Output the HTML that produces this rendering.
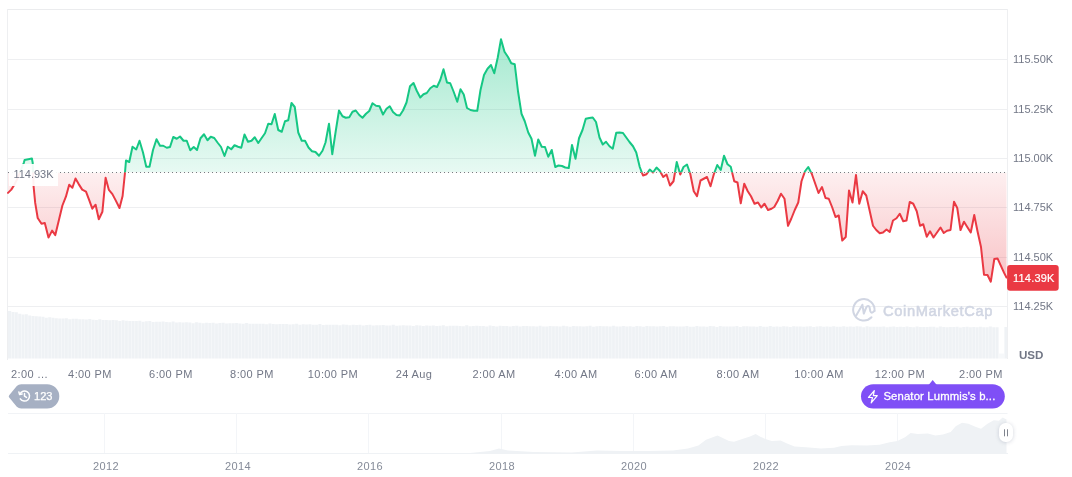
<!DOCTYPE html>
<html><head><meta charset="utf-8"><title>Chart</title>
<style>
html,body{margin:0;padding:0;background:#fff;}
body{width:1072px;height:477px;position:relative;overflow:hidden;font-family:"Liberation Sans",sans-serif;}
svg{position:absolute;left:0;top:0;}
.yl,.tl,.yr,.base,.cur,.usd,.wm,.pill,.tag{will-change:transform;}
.yl{position:absolute;left:1013.3px;height:15px;line-height:15px;font-size:11px;color:#727786;white-space:nowrap;}
.tl{position:absolute;top:366.5px;height:15px;line-height:15px;font-size:11px;letter-spacing:0.4px;color:#727786;white-space:nowrap;}
.yr{position:absolute;top:458.5px;width:60px;text-align:center;height:15px;line-height:15px;font-size:11px;letter-spacing:0.4px;color:#858b98;white-space:nowrap;}
.cur{position:absolute;left:1013.4px;top:271px;height:15px;color:#fff;font-size:11px;line-height:15px;letter-spacing:0.2px;-webkit-text-stroke:0.2px #fff;white-space:nowrap;}
.base{position:absolute;left:9px;top:163.5px;width:49px;height:22px;background:rgba(255,255,255,0.93);color:#727786;font-size:11px;line-height:21px;text-indent:4.4px;white-space:nowrap;}
.usd{position:absolute;left:1019.4px;top:347px;font-size:11.6px;font-weight:bold;color:#727786;height:15px;line-height:15px;}
.wm{position:absolute;left:883px;top:300.2px;height:22px;line-height:22px;font-size:14.7px;color:#d1d6e3;-webkit-text-stroke:0.55px #d1d6e3;letter-spacing:0.62px;white-space:nowrap;}
.pill{position:absolute;left:861px;top:384px;width:143.8px;height:24px;color:#fff;font-size:11.3px;letter-spacing:0.15px;line-height:24px;white-space:nowrap;}
.pill span{position:absolute;left:22.4px;top:0;-webkit-text-stroke:0.3px #fff;}
.tag{position:absolute;left:34.3px;top:384.4px;height:24px;line-height:24px;color:#fff;font-size:11.1px;-webkit-text-stroke:0.25px #fff;}
</style></head><body>
<svg width="1072" height="477" viewBox="0 0 1072 477">
<defs>
<linearGradient id="gg" gradientUnits="userSpaceOnUse" x1="0" y1="10" x2="0" y2="172.5">
<stop offset="0" stop-color="#16c784" stop-opacity="0.45"/><stop offset="1" stop-color="#16c784" stop-opacity="0.1"/></linearGradient>
<linearGradient id="rg" gradientUnits="userSpaceOnUse" x1="0" y1="172.5" x2="0" y2="330">
<stop offset="0" stop-color="#ea3943" stop-opacity="0.08"/><stop offset="1" stop-color="#ea3943" stop-opacity="0.4"/></linearGradient>
<clipPath id="top"><rect x="0" y="0" width="1072" height="172.5"/></clipPath>
<clipPath id="bot"><rect x="0" y="172.5" width="1072" height="300"/></clipPath>
</defs>
<!-- frame -->
<rect x="7" y="9" width="1001" height="1" fill="#ebecee"/>
<rect x="7" y="9" width="1" height="351" fill="#eeeff1"/>
<rect x="1007" y="9" width="1" height="350" fill="#eeeff1"/>
<rect x="8" y="59.0" width="1000" height="1" fill="#eeeff1"/><rect x="8" y="109.0" width="1000" height="1" fill="#eeeff1"/><rect x="8" y="158.0" width="1000" height="1" fill="#eeeff1"/><rect x="8" y="207.0" width="1000" height="1" fill="#eeeff1"/><rect x="8" y="257.0" width="1000" height="1" fill="#eeeff1"/><rect x="8" y="306.0" width="1000" height="1" fill="#eeeff1"/>
<!-- volume -->
<path d="M8,358.5 L8.00,311.09 L11.34,311.09 L11.34,311.90 L14.67,311.90 L14.67,312.18 L18.01,312.18 L18.01,313.63 L21.34,313.63 L21.34,314.40 L24.68,314.40 L24.68,314.30 L28.02,314.30 L28.02,315.60 L31.35,315.60 L31.35,315.88 L34.69,315.88 L34.69,316.35 L38.02,316.35 L38.02,316.38 L41.36,316.38 L41.36,316.83 L44.70,316.83 L44.70,317.84 L48.03,317.84 L48.03,317.19 L51.37,317.19 L51.37,317.78 L54.70,317.78 L54.70,318.29 L58.04,318.29 L58.04,318.41 L61.38,318.41 L61.38,318.51 L64.71,318.51 L64.71,318.25 L68.05,318.25 L68.05,319.22 L71.38,319.22 L71.38,318.79 L74.72,318.79 L74.72,318.63 L78.06,318.63 L78.06,319.36 L81.39,319.36 L81.39,319.19 L84.73,319.19 L84.73,319.44 L88.06,319.44 L88.06,319.08 L91.40,319.08 L91.40,319.76 L94.74,319.76 L94.74,319.98 L98.07,319.98 L98.07,319.29 L101.41,319.29 L101.41,320.09 L104.74,320.09 L104.74,320.09 L108.08,320.09 L108.08,320.21 L111.42,320.21 L111.42,320.06 L114.75,320.06 L114.75,320.22 L118.09,320.22 L118.09,321.00 L121.42,321.00 L121.42,320.19 L124.76,320.19 L124.76,320.63 L128.10,320.63 L128.10,321.04 L131.43,321.04 L131.43,320.91 L134.77,320.91 L134.77,321.04 L138.11,321.04 L138.11,320.81 L141.44,320.81 L141.44,321.73 L144.78,321.73 L144.78,321.31 L148.11,321.31 L148.11,321.12 L151.45,321.12 L151.45,321.89 L154.79,321.89 L154.79,321.64 L158.12,321.64 L158.12,321.83 L161.46,321.83 L161.46,321.52 L164.79,321.52 L164.79,322.12 L168.13,322.12 L168.13,322.32 L171.47,322.32 L171.47,321.58 L174.80,321.58 L174.80,322.40 L178.14,322.40 L178.14,322.37 L181.47,322.37 L181.47,322.38 L184.81,322.38 L184.81,322.30 L188.15,322.30 L188.15,322.41 L191.48,322.41 L191.48,323.13 L194.82,323.13 L194.82,322.31 L198.15,322.31 L198.15,322.72 L201.49,322.72 L201.49,323.13 L204.83,323.13 L204.83,322.84 L208.16,322.84 L208.16,322.96 L211.50,322.96 L211.50,322.71 L214.83,322.71 L214.83,323.51 L218.17,323.51 L218.17,323.06 L221.51,323.06 L221.51,322.78 L224.84,322.78 L224.84,323.59 L228.18,323.59 L228.18,323.24 L231.51,323.24 L231.51,323.37 L234.85,323.37 L234.85,323.12 L238.19,323.12 L238.19,323.62 L241.52,323.62 L241.52,323.80 L244.86,323.80 L244.86,323.02 L248.19,323.02 L248.19,323.83 L251.53,323.83 L251.53,323.78 L254.87,323.78 L254.87,323.67 L258.20,323.67 L258.20,323.65 L261.54,323.65 L261.54,323.70 L264.87,323.70 L264.87,324.37 L268.21,324.37 L268.21,323.52 L271.55,323.52 L271.55,323.88 L274.88,323.88 L274.88,324.33 L278.22,324.33 L278.22,323.94 L281.55,323.94 L281.55,324.11 L284.89,324.11 L284.89,323.89 L288.23,323.89 L288.23,324.61 L291.56,324.61 L291.56,324.18 L294.90,324.18 L294.90,323.87 L298.23,323.87 L298.23,324.72 L301.57,324.72 L301.57,324.31 L304.91,324.31 L304.91,324.41 L308.24,324.41 L308.24,324.25 L311.58,324.25 L311.58,324.66 L314.91,324.66 L314.91,324.85 L318.25,324.85 L318.25,324.05 L321.59,324.05 L321.59,324.88 L324.92,324.88 L324.92,324.83 L328.26,324.83 L328.26,324.63 L331.59,324.63 L331.59,324.70 L334.93,324.70 L334.93,324.71 L338.27,324.71 L338.27,325.33 L341.60,325.33 L341.60,324.51 L344.94,324.51 L344.94,324.86 L348.27,324.86 L348.27,325.36 L351.61,325.36 L351.61,324.86 L354.95,324.86 L354.95,325.05 L358.28,325.05 L358.28,324.86 L361.62,324.86 L361.62,325.49 L364.95,325.49 L364.95,325.08 L368.29,325.08 L368.29,324.74 L371.63,324.74 L371.63,325.62 L374.96,325.62 L374.96,325.14 L378.30,325.14 L378.30,325.19 L381.64,325.19 L381.64,325.11 L384.97,325.11 L384.97,325.43 L388.31,325.43 L388.31,325.61 L391.64,325.61 L391.64,324.80 L394.98,324.80 L394.98,325.63 L398.32,325.63 L398.32,325.56 L401.65,325.56 L401.65,325.26 L404.99,325.26 L404.99,325.41 L408.32,325.41 L408.32,325.39 L411.66,325.39 L411.66,325.95 L415.00,325.95 L415.00,325.14 L418.33,325.14 L418.33,325.46 L421.67,325.46 L421.67,325.99 L425.00,325.99 L425.00,325.41 L428.34,325.41 L428.34,325.64 L431.68,325.64 L431.68,325.50 L435.01,325.50 L435.01,326.04 L438.35,326.04 L438.35,325.67 L441.68,325.67 L441.68,325.32 L445.02,325.32 L445.02,326.23 L448.36,326.23 L448.36,325.72 L451.69,325.72 L451.69,325.73 L455.03,325.73 L455.03,325.73 L458.36,325.73 L458.36,325.97 L461.70,325.97 L461.70,326.14 L465.04,326.14 L465.04,325.33 L468.37,325.33 L468.37,326.16 L471.71,326.16 L471.71,326.09 L475.04,326.09 L475.04,325.71 L478.38,325.71 L478.38,325.94 L481.72,325.94 L481.72,325.88 L485.05,325.88 L485.05,326.38 L488.39,326.38 L488.39,325.60 L491.72,325.60 L491.72,325.90 L495.06,325.90 L495.06,326.45 L498.40,326.45 L498.40,325.78 L501.73,325.78 L501.73,326.04 L505.07,326.04 L505.07,325.94 L508.40,325.94 L508.40,326.39 L511.74,326.39 L511.74,326.05 L515.08,326.05 L515.08,325.68 L518.41,325.68 L518.41,326.61 L521.75,326.61 L521.75,326.05 L525.08,326.05 L525.08,326.03 L528.42,326.03 L528.42,326.13 L531.76,326.13 L531.76,326.29 L535.09,326.29 L535.09,326.46 L538.43,326.46 L538.43,325.67 L541.76,325.67 L541.76,326.48 L545.10,326.48 L545.10,326.42 L548.44,326.42 L548.44,325.95 L551.77,325.95 L551.77,326.25 L555.11,326.25 L555.11,326.17 L558.44,326.17 L558.44,326.59 L561.78,326.59 L561.78,325.87 L565.12,325.87 L565.12,326.13 L568.45,326.13 L568.45,326.70 L571.79,326.70 L571.79,325.96 L575.12,325.96 L575.12,326.24 L578.46,326.24 L578.46,326.18 L581.80,326.18 L581.80,326.52 L585.13,326.52 L585.13,326.22 L588.47,326.22 L588.47,325.84 L591.80,325.84 L591.80,326.77 L595.14,326.77 L595.14,326.18 L598.48,326.18 L598.48,326.11 L601.81,326.11 L601.81,326.30 L605.15,326.30 L605.15,326.36 L608.48,326.36 L608.48,326.53 L611.82,326.53 L611.82,325.77 L615.16,325.77 L615.16,326.57 L618.49,326.57 L618.49,326.52 L621.83,326.52 L621.83,325.98 L625.16,325.98 L625.16,326.38 L628.50,326.38 L628.50,326.28 L631.84,326.28 L631.84,326.64 L635.17,326.64 L635.17,325.98 L638.51,325.98 L638.51,326.22 L641.85,326.22 L641.85,326.81 L645.18,326.81 L645.18,326.01 L648.52,326.01 L648.52,326.33 L651.85,326.33 L651.85,326.32 L655.19,326.32 L655.19,326.57 L658.53,326.57 L658.53,326.31 L661.86,326.31 L661.86,325.94 L665.20,325.94 L665.20,326.87 L668.53,326.87 L668.53,326.26 L671.87,326.26 L671.87,326.16 L675.21,326.16 L675.21,326.45 L678.54,326.45 L678.54,326.43 L681.88,326.43 L681.88,326.59 L685.21,326.59 L685.21,325.89 L688.55,325.89 L688.55,326.66 L691.89,326.66 L691.89,326.63 L695.22,326.63 L695.22,326.03 L698.56,326.03 L698.56,326.50 L701.89,326.50 L701.89,326.38 L705.23,326.38 L705.23,326.68 L708.57,326.68 L708.57,326.09 L711.90,326.09 L711.90,326.31 L715.24,326.31 L715.24,326.92 L718.57,326.92 L718.57,326.07 L721.91,326.07 L721.91,326.42 L725.25,326.42 L725.25,326.47 L728.58,326.47 L728.58,326.61 L731.92,326.61 L731.92,326.41 L735.25,326.41 L735.25,326.04 L738.59,326.04 L738.59,326.97 L741.93,326.97 L741.93,326.35 L745.26,326.35 L745.26,326.22 L748.60,326.22 L748.60,326.60 L751.93,326.60 L751.93,326.51 L755.27,326.51 L755.27,326.66 L758.61,326.66 L758.61,326.01 L761.94,326.01 L761.94,326.75 L765.28,326.75 L765.28,326.74 L768.61,326.74 L768.61,326.08 L771.95,326.08 L771.95,326.64 L775.29,326.64 L775.29,326.50 L778.62,326.50 L778.62,326.73 L781.96,326.73 L781.96,326.22 L785.29,326.22 L785.29,326.41 L788.63,326.41 L788.63,327.03 L791.97,327.03 L791.97,326.15 L795.30,326.15 L795.30,326.51 L798.64,326.51 L798.64,326.62 L801.97,326.62 L801.97,326.66 L805.31,326.66 L805.31,326.52 L808.65,326.52 L808.65,326.16 L811.98,326.16 L811.98,327.07 L815.32,327.07 L815.32,326.44 L818.65,326.44 L818.65,326.29 L821.99,326.29 L821.99,326.75 L825.33,326.75 L825.33,326.58 L828.66,326.58 L828.66,326.73 L832.00,326.73 L832.00,326.14 L835.33,326.14 L835.33,326.84 L838.67,326.84 L838.67,326.84 L842.01,326.84 L842.01,326.14 L845.34,326.14 L845.34,326.76 L848.68,326.76 L848.68,326.62 L852.01,326.62 L852.01,326.78 L855.35,326.78 L855.35,326.37 L858.69,326.37 L858.69,326.54 L862.02,326.54 L862.02,327.18 L865.36,327.18 L865.36,326.28 L868.69,326.28 L868.69,326.67 L872.03,326.67 L872.03,326.84 L875.37,326.84 L875.37,326.79 L878.70,326.79 L878.70,326.71 L882.04,326.71 L882.04,326.38 L885.38,326.38 L885.38,327.27 L888.71,327.27 L888.71,326.67 L892.05,326.67 L892.05,326.49 L895.38,326.49 L895.38,327.05 L898.72,327.05 L898.72,326.82 L902.06,326.82 L902.06,326.96 L905.39,326.96 L905.39,326.46 L908.73,326.46 L908.73,327.12 L912.06,327.12 L912.06,327.15 L915.40,327.15 L915.40,326.42 L918.74,326.42 L918.74,327.11 L922.07,327.11 L922.07,326.97 L925.41,326.97 L925.41,327.05 L928.74,327.05 L928.74,326.73 L932.08,326.73 L932.08,326.87 L935.42,326.87 L935.42,327.50 L938.75,327.50 L938.75,326.58 L942.09,326.58 L942.09,326.98 L945.42,326.98 L945.42,327.20 L948.76,327.20 L948.76,327.03 L952.10,327.03 L952.10,327.01 L955.43,327.01 L955.43,326.69 L958.77,326.69 L958.77,327.53 L962.10,327.53 L962.10,326.93 L965.44,326.93 L965.44,326.72 L968.78,326.72 L968.78,327.34 L972.11,327.34 L972.11,327.03 L975.45,327.03 L975.45,327.15 L978.78,327.15 L978.78,326.72 L982.12,326.72 L982.12,327.31 L985.46,327.31 L985.46,327.35 L988.79,327.35 L988.79,326.58 L992.13,326.58 L992.13,327.32 L995.46,327.32 L995.46,327.16 L998.80,327.16 L998.8,358.5 Z" fill="#eff2f5"/>
<rect x="1004.4" y="327" width="3" height="31.5" fill="#eff2f5"/><rect x="998.8" y="353.6" width="5.6" height="4.9" fill="#f6f8fa"/>
<rect x="10.94" y="309" width="0.8" height="50" fill="#fff" opacity="0.5"/><rect x="14.27" y="309" width="0.8" height="50" fill="#fff" opacity="0.5"/><rect x="17.61" y="309" width="0.8" height="50" fill="#fff" opacity="0.5"/><rect x="20.94" y="309" width="0.8" height="50" fill="#fff" opacity="0.5"/><rect x="24.28" y="309" width="0.8" height="50" fill="#fff" opacity="0.5"/><rect x="27.62" y="309" width="0.8" height="50" fill="#fff" opacity="0.5"/><rect x="30.95" y="309" width="0.8" height="50" fill="#fff" opacity="0.5"/><rect x="34.29" y="309" width="0.8" height="50" fill="#fff" opacity="0.5"/><rect x="37.62" y="309" width="0.8" height="50" fill="#fff" opacity="0.5"/><rect x="40.96" y="309" width="0.8" height="50" fill="#fff" opacity="0.5"/><rect x="44.30" y="309" width="0.8" height="50" fill="#fff" opacity="0.5"/><rect x="47.63" y="309" width="0.8" height="50" fill="#fff" opacity="0.5"/><rect x="50.97" y="309" width="0.8" height="50" fill="#fff" opacity="0.5"/><rect x="54.30" y="309" width="0.8" height="50" fill="#fff" opacity="0.5"/><rect x="57.64" y="309" width="0.8" height="50" fill="#fff" opacity="0.5"/><rect x="60.98" y="309" width="0.8" height="50" fill="#fff" opacity="0.5"/><rect x="64.31" y="309" width="0.8" height="50" fill="#fff" opacity="0.5"/><rect x="67.65" y="309" width="0.8" height="50" fill="#fff" opacity="0.5"/><rect x="70.98" y="309" width="0.8" height="50" fill="#fff" opacity="0.5"/><rect x="74.32" y="309" width="0.8" height="50" fill="#fff" opacity="0.5"/><rect x="77.66" y="309" width="0.8" height="50" fill="#fff" opacity="0.5"/><rect x="80.99" y="309" width="0.8" height="50" fill="#fff" opacity="0.5"/><rect x="84.33" y="309" width="0.8" height="50" fill="#fff" opacity="0.5"/><rect x="87.66" y="309" width="0.8" height="50" fill="#fff" opacity="0.5"/><rect x="91.00" y="309" width="0.8" height="50" fill="#fff" opacity="0.5"/><rect x="94.34" y="309" width="0.8" height="50" fill="#fff" opacity="0.5"/><rect x="97.67" y="309" width="0.8" height="50" fill="#fff" opacity="0.5"/><rect x="101.01" y="309" width="0.8" height="50" fill="#fff" opacity="0.5"/><rect x="104.34" y="309" width="0.8" height="50" fill="#fff" opacity="0.5"/><rect x="107.68" y="309" width="0.8" height="50" fill="#fff" opacity="0.5"/><rect x="111.02" y="309" width="0.8" height="50" fill="#fff" opacity="0.5"/><rect x="114.35" y="309" width="0.8" height="50" fill="#fff" opacity="0.5"/><rect x="117.69" y="309" width="0.8" height="50" fill="#fff" opacity="0.5"/><rect x="121.02" y="309" width="0.8" height="50" fill="#fff" opacity="0.5"/><rect x="124.36" y="309" width="0.8" height="50" fill="#fff" opacity="0.5"/><rect x="127.70" y="309" width="0.8" height="50" fill="#fff" opacity="0.5"/><rect x="131.03" y="309" width="0.8" height="50" fill="#fff" opacity="0.5"/><rect x="134.37" y="309" width="0.8" height="50" fill="#fff" opacity="0.5"/><rect x="137.71" y="309" width="0.8" height="50" fill="#fff" opacity="0.5"/><rect x="141.04" y="309" width="0.8" height="50" fill="#fff" opacity="0.5"/><rect x="144.38" y="309" width="0.8" height="50" fill="#fff" opacity="0.5"/><rect x="147.71" y="309" width="0.8" height="50" fill="#fff" opacity="0.5"/><rect x="151.05" y="309" width="0.8" height="50" fill="#fff" opacity="0.5"/><rect x="154.39" y="309" width="0.8" height="50" fill="#fff" opacity="0.5"/><rect x="157.72" y="309" width="0.8" height="50" fill="#fff" opacity="0.5"/><rect x="161.06" y="309" width="0.8" height="50" fill="#fff" opacity="0.5"/><rect x="164.39" y="309" width="0.8" height="50" fill="#fff" opacity="0.5"/><rect x="167.73" y="309" width="0.8" height="50" fill="#fff" opacity="0.5"/><rect x="171.07" y="309" width="0.8" height="50" fill="#fff" opacity="0.5"/><rect x="174.40" y="309" width="0.8" height="50" fill="#fff" opacity="0.5"/><rect x="177.74" y="309" width="0.8" height="50" fill="#fff" opacity="0.5"/><rect x="181.07" y="309" width="0.8" height="50" fill="#fff" opacity="0.5"/><rect x="184.41" y="309" width="0.8" height="50" fill="#fff" opacity="0.5"/><rect x="187.75" y="309" width="0.8" height="50" fill="#fff" opacity="0.5"/><rect x="191.08" y="309" width="0.8" height="50" fill="#fff" opacity="0.5"/><rect x="194.42" y="309" width="0.8" height="50" fill="#fff" opacity="0.5"/><rect x="197.75" y="309" width="0.8" height="50" fill="#fff" opacity="0.5"/><rect x="201.09" y="309" width="0.8" height="50" fill="#fff" opacity="0.5"/><rect x="204.43" y="309" width="0.8" height="50" fill="#fff" opacity="0.5"/><rect x="207.76" y="309" width="0.8" height="50" fill="#fff" opacity="0.5"/><rect x="211.10" y="309" width="0.8" height="50" fill="#fff" opacity="0.5"/><rect x="214.43" y="309" width="0.8" height="50" fill="#fff" opacity="0.5"/><rect x="217.77" y="309" width="0.8" height="50" fill="#fff" opacity="0.5"/><rect x="221.11" y="309" width="0.8" height="50" fill="#fff" opacity="0.5"/><rect x="224.44" y="309" width="0.8" height="50" fill="#fff" opacity="0.5"/><rect x="227.78" y="309" width="0.8" height="50" fill="#fff" opacity="0.5"/><rect x="231.11" y="309" width="0.8" height="50" fill="#fff" opacity="0.5"/><rect x="234.45" y="309" width="0.8" height="50" fill="#fff" opacity="0.5"/><rect x="237.79" y="309" width="0.8" height="50" fill="#fff" opacity="0.5"/><rect x="241.12" y="309" width="0.8" height="50" fill="#fff" opacity="0.5"/><rect x="244.46" y="309" width="0.8" height="50" fill="#fff" opacity="0.5"/><rect x="247.79" y="309" width="0.8" height="50" fill="#fff" opacity="0.5"/><rect x="251.13" y="309" width="0.8" height="50" fill="#fff" opacity="0.5"/><rect x="254.47" y="309" width="0.8" height="50" fill="#fff" opacity="0.5"/><rect x="257.80" y="309" width="0.8" height="50" fill="#fff" opacity="0.5"/><rect x="261.14" y="309" width="0.8" height="50" fill="#fff" opacity="0.5"/><rect x="264.47" y="309" width="0.8" height="50" fill="#fff" opacity="0.5"/><rect x="267.81" y="309" width="0.8" height="50" fill="#fff" opacity="0.5"/><rect x="271.15" y="309" width="0.8" height="50" fill="#fff" opacity="0.5"/><rect x="274.48" y="309" width="0.8" height="50" fill="#fff" opacity="0.5"/><rect x="277.82" y="309" width="0.8" height="50" fill="#fff" opacity="0.5"/><rect x="281.15" y="309" width="0.8" height="50" fill="#fff" opacity="0.5"/><rect x="284.49" y="309" width="0.8" height="50" fill="#fff" opacity="0.5"/><rect x="287.83" y="309" width="0.8" height="50" fill="#fff" opacity="0.5"/><rect x="291.16" y="309" width="0.8" height="50" fill="#fff" opacity="0.5"/><rect x="294.50" y="309" width="0.8" height="50" fill="#fff" opacity="0.5"/><rect x="297.83" y="309" width="0.8" height="50" fill="#fff" opacity="0.5"/><rect x="301.17" y="309" width="0.8" height="50" fill="#fff" opacity="0.5"/><rect x="304.51" y="309" width="0.8" height="50" fill="#fff" opacity="0.5"/><rect x="307.84" y="309" width="0.8" height="50" fill="#fff" opacity="0.5"/><rect x="311.18" y="309" width="0.8" height="50" fill="#fff" opacity="0.5"/><rect x="314.51" y="309" width="0.8" height="50" fill="#fff" opacity="0.5"/><rect x="317.85" y="309" width="0.8" height="50" fill="#fff" opacity="0.5"/><rect x="321.19" y="309" width="0.8" height="50" fill="#fff" opacity="0.5"/><rect x="324.52" y="309" width="0.8" height="50" fill="#fff" opacity="0.5"/><rect x="327.86" y="309" width="0.8" height="50" fill="#fff" opacity="0.5"/><rect x="331.19" y="309" width="0.8" height="50" fill="#fff" opacity="0.5"/><rect x="334.53" y="309" width="0.8" height="50" fill="#fff" opacity="0.5"/><rect x="337.87" y="309" width="0.8" height="50" fill="#fff" opacity="0.5"/><rect x="341.20" y="309" width="0.8" height="50" fill="#fff" opacity="0.5"/><rect x="344.54" y="309" width="0.8" height="50" fill="#fff" opacity="0.5"/><rect x="347.87" y="309" width="0.8" height="50" fill="#fff" opacity="0.5"/><rect x="351.21" y="309" width="0.8" height="50" fill="#fff" opacity="0.5"/><rect x="354.55" y="309" width="0.8" height="50" fill="#fff" opacity="0.5"/><rect x="357.88" y="309" width="0.8" height="50" fill="#fff" opacity="0.5"/><rect x="361.22" y="309" width="0.8" height="50" fill="#fff" opacity="0.5"/><rect x="364.55" y="309" width="0.8" height="50" fill="#fff" opacity="0.5"/><rect x="367.89" y="309" width="0.8" height="50" fill="#fff" opacity="0.5"/><rect x="371.23" y="309" width="0.8" height="50" fill="#fff" opacity="0.5"/><rect x="374.56" y="309" width="0.8" height="50" fill="#fff" opacity="0.5"/><rect x="377.90" y="309" width="0.8" height="50" fill="#fff" opacity="0.5"/><rect x="381.24" y="309" width="0.8" height="50" fill="#fff" opacity="0.5"/><rect x="384.57" y="309" width="0.8" height="50" fill="#fff" opacity="0.5"/><rect x="387.91" y="309" width="0.8" height="50" fill="#fff" opacity="0.5"/><rect x="391.24" y="309" width="0.8" height="50" fill="#fff" opacity="0.5"/><rect x="394.58" y="309" width="0.8" height="50" fill="#fff" opacity="0.5"/><rect x="397.92" y="309" width="0.8" height="50" fill="#fff" opacity="0.5"/><rect x="401.25" y="309" width="0.8" height="50" fill="#fff" opacity="0.5"/><rect x="404.59" y="309" width="0.8" height="50" fill="#fff" opacity="0.5"/><rect x="407.92" y="309" width="0.8" height="50" fill="#fff" opacity="0.5"/><rect x="411.26" y="309" width="0.8" height="50" fill="#fff" opacity="0.5"/><rect x="414.60" y="309" width="0.8" height="50" fill="#fff" opacity="0.5"/><rect x="417.93" y="309" width="0.8" height="50" fill="#fff" opacity="0.5"/><rect x="421.27" y="309" width="0.8" height="50" fill="#fff" opacity="0.5"/><rect x="424.60" y="309" width="0.8" height="50" fill="#fff" opacity="0.5"/><rect x="427.94" y="309" width="0.8" height="50" fill="#fff" opacity="0.5"/><rect x="431.28" y="309" width="0.8" height="50" fill="#fff" opacity="0.5"/><rect x="434.61" y="309" width="0.8" height="50" fill="#fff" opacity="0.5"/><rect x="437.95" y="309" width="0.8" height="50" fill="#fff" opacity="0.5"/><rect x="441.28" y="309" width="0.8" height="50" fill="#fff" opacity="0.5"/><rect x="444.62" y="309" width="0.8" height="50" fill="#fff" opacity="0.5"/><rect x="447.96" y="309" width="0.8" height="50" fill="#fff" opacity="0.5"/><rect x="451.29" y="309" width="0.8" height="50" fill="#fff" opacity="0.5"/><rect x="454.63" y="309" width="0.8" height="50" fill="#fff" opacity="0.5"/><rect x="457.96" y="309" width="0.8" height="50" fill="#fff" opacity="0.5"/><rect x="461.30" y="309" width="0.8" height="50" fill="#fff" opacity="0.5"/><rect x="464.64" y="309" width="0.8" height="50" fill="#fff" opacity="0.5"/><rect x="467.97" y="309" width="0.8" height="50" fill="#fff" opacity="0.5"/><rect x="471.31" y="309" width="0.8" height="50" fill="#fff" opacity="0.5"/><rect x="474.64" y="309" width="0.8" height="50" fill="#fff" opacity="0.5"/><rect x="477.98" y="309" width="0.8" height="50" fill="#fff" opacity="0.5"/><rect x="481.32" y="309" width="0.8" height="50" fill="#fff" opacity="0.5"/><rect x="484.65" y="309" width="0.8" height="50" fill="#fff" opacity="0.5"/><rect x="487.99" y="309" width="0.8" height="50" fill="#fff" opacity="0.5"/><rect x="491.32" y="309" width="0.8" height="50" fill="#fff" opacity="0.5"/><rect x="494.66" y="309" width="0.8" height="50" fill="#fff" opacity="0.5"/><rect x="498.00" y="309" width="0.8" height="50" fill="#fff" opacity="0.5"/><rect x="501.33" y="309" width="0.8" height="50" fill="#fff" opacity="0.5"/><rect x="504.67" y="309" width="0.8" height="50" fill="#fff" opacity="0.5"/><rect x="508.00" y="309" width="0.8" height="50" fill="#fff" opacity="0.5"/><rect x="511.34" y="309" width="0.8" height="50" fill="#fff" opacity="0.5"/><rect x="514.68" y="309" width="0.8" height="50" fill="#fff" opacity="0.5"/><rect x="518.01" y="309" width="0.8" height="50" fill="#fff" opacity="0.5"/><rect x="521.35" y="309" width="0.8" height="50" fill="#fff" opacity="0.5"/><rect x="524.68" y="309" width="0.8" height="50" fill="#fff" opacity="0.5"/><rect x="528.02" y="309" width="0.8" height="50" fill="#fff" opacity="0.5"/><rect x="531.36" y="309" width="0.8" height="50" fill="#fff" opacity="0.5"/><rect x="534.69" y="309" width="0.8" height="50" fill="#fff" opacity="0.5"/><rect x="538.03" y="309" width="0.8" height="50" fill="#fff" opacity="0.5"/><rect x="541.36" y="309" width="0.8" height="50" fill="#fff" opacity="0.5"/><rect x="544.70" y="309" width="0.8" height="50" fill="#fff" opacity="0.5"/><rect x="548.04" y="309" width="0.8" height="50" fill="#fff" opacity="0.5"/><rect x="551.37" y="309" width="0.8" height="50" fill="#fff" opacity="0.5"/><rect x="554.71" y="309" width="0.8" height="50" fill="#fff" opacity="0.5"/><rect x="558.04" y="309" width="0.8" height="50" fill="#fff" opacity="0.5"/><rect x="561.38" y="309" width="0.8" height="50" fill="#fff" opacity="0.5"/><rect x="564.72" y="309" width="0.8" height="50" fill="#fff" opacity="0.5"/><rect x="568.05" y="309" width="0.8" height="50" fill="#fff" opacity="0.5"/><rect x="571.39" y="309" width="0.8" height="50" fill="#fff" opacity="0.5"/><rect x="574.72" y="309" width="0.8" height="50" fill="#fff" opacity="0.5"/><rect x="578.06" y="309" width="0.8" height="50" fill="#fff" opacity="0.5"/><rect x="581.40" y="309" width="0.8" height="50" fill="#fff" opacity="0.5"/><rect x="584.73" y="309" width="0.8" height="50" fill="#fff" opacity="0.5"/><rect x="588.07" y="309" width="0.8" height="50" fill="#fff" opacity="0.5"/><rect x="591.40" y="309" width="0.8" height="50" fill="#fff" opacity="0.5"/><rect x="594.74" y="309" width="0.8" height="50" fill="#fff" opacity="0.5"/><rect x="598.08" y="309" width="0.8" height="50" fill="#fff" opacity="0.5"/><rect x="601.41" y="309" width="0.8" height="50" fill="#fff" opacity="0.5"/><rect x="604.75" y="309" width="0.8" height="50" fill="#fff" opacity="0.5"/><rect x="608.08" y="309" width="0.8" height="50" fill="#fff" opacity="0.5"/><rect x="611.42" y="309" width="0.8" height="50" fill="#fff" opacity="0.5"/><rect x="614.76" y="309" width="0.8" height="50" fill="#fff" opacity="0.5"/><rect x="618.09" y="309" width="0.8" height="50" fill="#fff" opacity="0.5"/><rect x="621.43" y="309" width="0.8" height="50" fill="#fff" opacity="0.5"/><rect x="624.76" y="309" width="0.8" height="50" fill="#fff" opacity="0.5"/><rect x="628.10" y="309" width="0.8" height="50" fill="#fff" opacity="0.5"/><rect x="631.44" y="309" width="0.8" height="50" fill="#fff" opacity="0.5"/><rect x="634.77" y="309" width="0.8" height="50" fill="#fff" opacity="0.5"/><rect x="638.11" y="309" width="0.8" height="50" fill="#fff" opacity="0.5"/><rect x="641.45" y="309" width="0.8" height="50" fill="#fff" opacity="0.5"/><rect x="644.78" y="309" width="0.8" height="50" fill="#fff" opacity="0.5"/><rect x="648.12" y="309" width="0.8" height="50" fill="#fff" opacity="0.5"/><rect x="651.45" y="309" width="0.8" height="50" fill="#fff" opacity="0.5"/><rect x="654.79" y="309" width="0.8" height="50" fill="#fff" opacity="0.5"/><rect x="658.13" y="309" width="0.8" height="50" fill="#fff" opacity="0.5"/><rect x="661.46" y="309" width="0.8" height="50" fill="#fff" opacity="0.5"/><rect x="664.80" y="309" width="0.8" height="50" fill="#fff" opacity="0.5"/><rect x="668.13" y="309" width="0.8" height="50" fill="#fff" opacity="0.5"/><rect x="671.47" y="309" width="0.8" height="50" fill="#fff" opacity="0.5"/><rect x="674.81" y="309" width="0.8" height="50" fill="#fff" opacity="0.5"/><rect x="678.14" y="309" width="0.8" height="50" fill="#fff" opacity="0.5"/><rect x="681.48" y="309" width="0.8" height="50" fill="#fff" opacity="0.5"/><rect x="684.81" y="309" width="0.8" height="50" fill="#fff" opacity="0.5"/><rect x="688.15" y="309" width="0.8" height="50" fill="#fff" opacity="0.5"/><rect x="691.49" y="309" width="0.8" height="50" fill="#fff" opacity="0.5"/><rect x="694.82" y="309" width="0.8" height="50" fill="#fff" opacity="0.5"/><rect x="698.16" y="309" width="0.8" height="50" fill="#fff" opacity="0.5"/><rect x="701.49" y="309" width="0.8" height="50" fill="#fff" opacity="0.5"/><rect x="704.83" y="309" width="0.8" height="50" fill="#fff" opacity="0.5"/><rect x="708.17" y="309" width="0.8" height="50" fill="#fff" opacity="0.5"/><rect x="711.50" y="309" width="0.8" height="50" fill="#fff" opacity="0.5"/><rect x="714.84" y="309" width="0.8" height="50" fill="#fff" opacity="0.5"/><rect x="718.17" y="309" width="0.8" height="50" fill="#fff" opacity="0.5"/><rect x="721.51" y="309" width="0.8" height="50" fill="#fff" opacity="0.5"/><rect x="724.85" y="309" width="0.8" height="50" fill="#fff" opacity="0.5"/><rect x="728.18" y="309" width="0.8" height="50" fill="#fff" opacity="0.5"/><rect x="731.52" y="309" width="0.8" height="50" fill="#fff" opacity="0.5"/><rect x="734.85" y="309" width="0.8" height="50" fill="#fff" opacity="0.5"/><rect x="738.19" y="309" width="0.8" height="50" fill="#fff" opacity="0.5"/><rect x="741.53" y="309" width="0.8" height="50" fill="#fff" opacity="0.5"/><rect x="744.86" y="309" width="0.8" height="50" fill="#fff" opacity="0.5"/><rect x="748.20" y="309" width="0.8" height="50" fill="#fff" opacity="0.5"/><rect x="751.53" y="309" width="0.8" height="50" fill="#fff" opacity="0.5"/><rect x="754.87" y="309" width="0.8" height="50" fill="#fff" opacity="0.5"/><rect x="758.21" y="309" width="0.8" height="50" fill="#fff" opacity="0.5"/><rect x="761.54" y="309" width="0.8" height="50" fill="#fff" opacity="0.5"/><rect x="764.88" y="309" width="0.8" height="50" fill="#fff" opacity="0.5"/><rect x="768.21" y="309" width="0.8" height="50" fill="#fff" opacity="0.5"/><rect x="771.55" y="309" width="0.8" height="50" fill="#fff" opacity="0.5"/><rect x="774.89" y="309" width="0.8" height="50" fill="#fff" opacity="0.5"/><rect x="778.22" y="309" width="0.8" height="50" fill="#fff" opacity="0.5"/><rect x="781.56" y="309" width="0.8" height="50" fill="#fff" opacity="0.5"/><rect x="784.89" y="309" width="0.8" height="50" fill="#fff" opacity="0.5"/><rect x="788.23" y="309" width="0.8" height="50" fill="#fff" opacity="0.5"/><rect x="791.57" y="309" width="0.8" height="50" fill="#fff" opacity="0.5"/><rect x="794.90" y="309" width="0.8" height="50" fill="#fff" opacity="0.5"/><rect x="798.24" y="309" width="0.8" height="50" fill="#fff" opacity="0.5"/><rect x="801.57" y="309" width="0.8" height="50" fill="#fff" opacity="0.5"/><rect x="804.91" y="309" width="0.8" height="50" fill="#fff" opacity="0.5"/><rect x="808.25" y="309" width="0.8" height="50" fill="#fff" opacity="0.5"/><rect x="811.58" y="309" width="0.8" height="50" fill="#fff" opacity="0.5"/><rect x="814.92" y="309" width="0.8" height="50" fill="#fff" opacity="0.5"/><rect x="818.25" y="309" width="0.8" height="50" fill="#fff" opacity="0.5"/><rect x="821.59" y="309" width="0.8" height="50" fill="#fff" opacity="0.5"/><rect x="824.93" y="309" width="0.8" height="50" fill="#fff" opacity="0.5"/><rect x="828.26" y="309" width="0.8" height="50" fill="#fff" opacity="0.5"/><rect x="831.60" y="309" width="0.8" height="50" fill="#fff" opacity="0.5"/><rect x="834.93" y="309" width="0.8" height="50" fill="#fff" opacity="0.5"/><rect x="838.27" y="309" width="0.8" height="50" fill="#fff" opacity="0.5"/><rect x="841.61" y="309" width="0.8" height="50" fill="#fff" opacity="0.5"/><rect x="844.94" y="309" width="0.8" height="50" fill="#fff" opacity="0.5"/><rect x="848.28" y="309" width="0.8" height="50" fill="#fff" opacity="0.5"/><rect x="851.61" y="309" width="0.8" height="50" fill="#fff" opacity="0.5"/><rect x="854.95" y="309" width="0.8" height="50" fill="#fff" opacity="0.5"/><rect x="858.29" y="309" width="0.8" height="50" fill="#fff" opacity="0.5"/><rect x="861.62" y="309" width="0.8" height="50" fill="#fff" opacity="0.5"/><rect x="864.96" y="309" width="0.8" height="50" fill="#fff" opacity="0.5"/><rect x="868.29" y="309" width="0.8" height="50" fill="#fff" opacity="0.5"/><rect x="871.63" y="309" width="0.8" height="50" fill="#fff" opacity="0.5"/><rect x="874.97" y="309" width="0.8" height="50" fill="#fff" opacity="0.5"/><rect x="878.30" y="309" width="0.8" height="50" fill="#fff" opacity="0.5"/><rect x="881.64" y="309" width="0.8" height="50" fill="#fff" opacity="0.5"/><rect x="884.98" y="309" width="0.8" height="50" fill="#fff" opacity="0.5"/><rect x="888.31" y="309" width="0.8" height="50" fill="#fff" opacity="0.5"/><rect x="891.65" y="309" width="0.8" height="50" fill="#fff" opacity="0.5"/><rect x="894.98" y="309" width="0.8" height="50" fill="#fff" opacity="0.5"/><rect x="898.32" y="309" width="0.8" height="50" fill="#fff" opacity="0.5"/><rect x="901.66" y="309" width="0.8" height="50" fill="#fff" opacity="0.5"/><rect x="904.99" y="309" width="0.8" height="50" fill="#fff" opacity="0.5"/><rect x="908.33" y="309" width="0.8" height="50" fill="#fff" opacity="0.5"/><rect x="911.66" y="309" width="0.8" height="50" fill="#fff" opacity="0.5"/><rect x="915.00" y="309" width="0.8" height="50" fill="#fff" opacity="0.5"/><rect x="918.34" y="309" width="0.8" height="50" fill="#fff" opacity="0.5"/><rect x="921.67" y="309" width="0.8" height="50" fill="#fff" opacity="0.5"/><rect x="925.01" y="309" width="0.8" height="50" fill="#fff" opacity="0.5"/><rect x="928.34" y="309" width="0.8" height="50" fill="#fff" opacity="0.5"/><rect x="931.68" y="309" width="0.8" height="50" fill="#fff" opacity="0.5"/><rect x="935.02" y="309" width="0.8" height="50" fill="#fff" opacity="0.5"/><rect x="938.35" y="309" width="0.8" height="50" fill="#fff" opacity="0.5"/><rect x="941.69" y="309" width="0.8" height="50" fill="#fff" opacity="0.5"/><rect x="945.02" y="309" width="0.8" height="50" fill="#fff" opacity="0.5"/><rect x="948.36" y="309" width="0.8" height="50" fill="#fff" opacity="0.5"/><rect x="951.70" y="309" width="0.8" height="50" fill="#fff" opacity="0.5"/><rect x="955.03" y="309" width="0.8" height="50" fill="#fff" opacity="0.5"/><rect x="958.37" y="309" width="0.8" height="50" fill="#fff" opacity="0.5"/><rect x="961.70" y="309" width="0.8" height="50" fill="#fff" opacity="0.5"/><rect x="965.04" y="309" width="0.8" height="50" fill="#fff" opacity="0.5"/><rect x="968.38" y="309" width="0.8" height="50" fill="#fff" opacity="0.5"/><rect x="971.71" y="309" width="0.8" height="50" fill="#fff" opacity="0.5"/><rect x="975.05" y="309" width="0.8" height="50" fill="#fff" opacity="0.5"/><rect x="978.38" y="309" width="0.8" height="50" fill="#fff" opacity="0.5"/><rect x="981.72" y="309" width="0.8" height="50" fill="#fff" opacity="0.5"/><rect x="985.06" y="309" width="0.8" height="50" fill="#fff" opacity="0.5"/><rect x="988.39" y="309" width="0.8" height="50" fill="#fff" opacity="0.5"/><rect x="991.73" y="309" width="0.8" height="50" fill="#fff" opacity="0.5"/><rect x="995.06" y="309" width="0.8" height="50" fill="#fff" opacity="0.5"/><rect x="998.40" y="309" width="0.8" height="50" fill="#fff" opacity="0.5"/>
<!-- areas -->
<g clip-path="url(#top)"><path d="M8.00,192.90 L11.30,189.60 L14.50,184.50 L17.70,178.00 L20.90,170.00 L23.90,162.60 L24.60,160.00 L28.30,159.20 L31.90,158.50 L32.70,162.70 L33.60,186.50 L35.20,202.90 L37.70,218.00 L41.50,223.80 L44.80,223.10 L48.50,237.60 L52.10,230.60 L55.30,235.10 L59.10,219.30 L62.40,205.50 L65.90,196.70 L69.20,184.80 L72.40,187.80 L75.50,178.50 L78.70,184.10 L82.20,189.60 L86.00,191.60 L89.30,200.40 L92.30,208.70 L95.60,204.70 L98.80,219.30 L102.40,211.70 L105.60,177.80 L108.90,189.90 L112.40,194.10 L115.70,200.40 L119.50,208.00 L122.60,196.00 L125.00,172.50 L126.00,160.50 L129.25,162.00 L132.50,146.75 L136.25,149.50 L139.50,140.75 L143.00,152.50 L146.25,166.75 L149.50,166.75 L153.00,150.00 L156.50,139.25 L160.00,145.75 L163.25,145.75 L166.75,147.75 L170.00,147.00 L173.25,137.00 L176.75,138.75 L180.00,136.50 L183.50,140.75 L186.75,140.75 L190.25,150.25 L193.75,147.00 L197.00,150.00 L200.50,138.25 L204.00,134.25 L207.50,140.25 L210.75,136.75 L214.25,138.00 L217.50,142.50 L221.00,147.00 L224.50,156.00 L227.75,146.75 L231.25,149.25 L234.50,145.25 L238.00,146.75 L241.25,147.75 L244.50,134.50 L248.00,141.75 L251.50,140.75 L254.75,137.25 L258.25,143.00 L261.50,138.25 L265.00,133.25 L268.25,123.75 L271.50,124.25 L274.75,114.00 L278.25,130.00 L281.75,131.75 L285.00,121.25 L288.25,120.25 L291.50,103.00 L294.75,107.00 L298.25,132.50 L301.75,140.75 L305.00,140.75 L308.50,147.50 L312.00,151.25 L315.50,152.00 L319.00,155.75 L322.50,150.75 L325.50,142.50 L329.00,123.75 L332.25,154.25 L335.60,132.00 L339.00,110.50 L342.50,116.25 L345.75,117.75 L349.25,117.25 L352.50,111.75 L355.75,110.50 L359.25,115.00 L362.50,117.75 L366.00,113.75 L369.25,111.00 L372.50,103.25 L376.00,105.75 L379.50,106.25 L383.00,114.50 L386.50,108.75 L389.75,106.25 L393.00,112.00 L396.50,115.00 L399.75,115.50 L403.00,110.50 L406.50,102.50 L410.00,86.25 L413.50,83.00 L416.75,90.75 L420.25,97.50 L423.50,94.25 L426.75,93.00 L430.25,88.25 L433.75,85.75 L437.00,87.00 L440.25,80.00 L443.50,69.25 L447.00,82.50 L450.25,83.25 L453.75,92.00 L457.25,101.75 L460.50,89.25 L463.75,94.50 L467.00,108.00 L470.50,110.00 L474.00,110.75 L477.25,110.75 L480.50,90.00 L484.00,75.00 L487.50,68.75 L491.00,65.00 L494.25,73.25 L497.75,57.50 L501.00,39.25 L504.50,51.75 L508.00,57.00 L511.25,63.25 L514.75,64.25 L518.00,91.25 L521.50,113.75 L524.75,121.25 L528.25,132.50 L531.50,138.75 L535.00,155.75 L538.25,139.50 L541.75,146.75 L545.00,147.00 L548.25,156.75 L551.75,150.00 L555.25,167.00 L558.50,165.50 L562.00,166.00 L565.25,167.50 L568.75,168.00 L572.00,145.00 L575.50,158.75 L579.00,138.25 L582.50,130.00 L585.75,118.75 L589.25,118.00 L592.75,117.50 L596.00,122.00 L599.50,137.50 L602.75,144.50 L606.00,141.75 L609.50,146.25 L612.75,148.75 L616.25,132.75 L619.50,132.50 L623.00,133.00 L626.25,137.50 L629.50,142.00 L633.00,146.25 L636.25,152.50 L639.75,167.00 L643.00,175.50 L646.50,174.25 L649.75,169.50 L653.00,172.50 L656.50,167.50 L659.75,170.75 L663.25,177.00 L666.50,174.50 L670.00,185.50 L673.50,181.25 L676.75,162.00 L680.25,174.50 L683.50,167.00 L687.00,164.50 L690.25,173.75 L693.75,191.25 L697.00,196.25 L700.50,180.50 L703.75,178.75 L707.00,177.00 L710.50,186.25 L713.75,174.50 L717.25,165.00 L720.75,170.00 L724.00,155.75 L727.50,164.25 L730.75,166.75 L734.25,181.25 L737.50,182.50 L740.75,203.25 L744.25,183.75 L747.75,191.25 L751.00,196.25 L754.50,203.75 L758.00,202.50 L761.25,207.50 L764.50,203.75 L768.00,210.00 L771.50,208.75 L774.25,207.00 L777.50,201.25 L781.00,193.75 L784.50,198.75 L788.00,225.75 L791.25,218.75 L794.75,210.00 L798.25,202.50 L801.50,181.25 L805.00,171.25 L808.25,167.00 L811.75,173.75 L815.25,183.75 L818.50,193.00 L822.00,187.00 L825.50,198.00 L828.75,198.75 L832.25,207.50 L835.50,217.00 L838.75,215.50 L842.25,240.50 L845.75,237.00 L849.00,190.50 L852.50,202.50 L856.00,175.00 L859.25,203.75 L862.75,191.25 L866.25,195.50 L869.50,210.00 L873.00,225.75 L876.25,230.00 L879.75,233.25 L883.00,232.50 L886.50,229.50 L889.75,232.00 L893.00,220.50 L896.50,218.25 L899.75,213.75 L903.25,221.25 L906.50,220.50 L909.75,202.00 L913.25,203.75 L916.75,211.25 L920.00,225.75 L923.25,224.25 L926.75,236.75 L930.00,231.25 L933.50,237.50 L937.00,232.50 L940.50,227.50 L943.75,233.00 L947.00,230.75 L950.50,230.00 L954.00,201.75 L957.25,208.00 L960.50,230.00 L964.00,221.75 L967.25,227.00 L970.75,232.50 L974.25,215.00 L977.50,231.25 L981.00,247.00 L984.00,274.70 L987.50,275.00 L990.80,281.70 L994.30,259.00 L997.50,258.40 L1000.80,265.60 L1004.10,272.90 L1006.50,277.50 L1006.50,172.5 L8.00,172.5 Z" fill="url(#gg)"/></g>
<g clip-path="url(#bot)"><path d="M8.00,192.90 L11.30,189.60 L14.50,184.50 L17.70,178.00 L20.90,170.00 L23.90,162.60 L24.60,160.00 L28.30,159.20 L31.90,158.50 L32.70,162.70 L33.60,186.50 L35.20,202.90 L37.70,218.00 L41.50,223.80 L44.80,223.10 L48.50,237.60 L52.10,230.60 L55.30,235.10 L59.10,219.30 L62.40,205.50 L65.90,196.70 L69.20,184.80 L72.40,187.80 L75.50,178.50 L78.70,184.10 L82.20,189.60 L86.00,191.60 L89.30,200.40 L92.30,208.70 L95.60,204.70 L98.80,219.30 L102.40,211.70 L105.60,177.80 L108.90,189.90 L112.40,194.10 L115.70,200.40 L119.50,208.00 L122.60,196.00 L125.00,172.50 L126.00,160.50 L129.25,162.00 L132.50,146.75 L136.25,149.50 L139.50,140.75 L143.00,152.50 L146.25,166.75 L149.50,166.75 L153.00,150.00 L156.50,139.25 L160.00,145.75 L163.25,145.75 L166.75,147.75 L170.00,147.00 L173.25,137.00 L176.75,138.75 L180.00,136.50 L183.50,140.75 L186.75,140.75 L190.25,150.25 L193.75,147.00 L197.00,150.00 L200.50,138.25 L204.00,134.25 L207.50,140.25 L210.75,136.75 L214.25,138.00 L217.50,142.50 L221.00,147.00 L224.50,156.00 L227.75,146.75 L231.25,149.25 L234.50,145.25 L238.00,146.75 L241.25,147.75 L244.50,134.50 L248.00,141.75 L251.50,140.75 L254.75,137.25 L258.25,143.00 L261.50,138.25 L265.00,133.25 L268.25,123.75 L271.50,124.25 L274.75,114.00 L278.25,130.00 L281.75,131.75 L285.00,121.25 L288.25,120.25 L291.50,103.00 L294.75,107.00 L298.25,132.50 L301.75,140.75 L305.00,140.75 L308.50,147.50 L312.00,151.25 L315.50,152.00 L319.00,155.75 L322.50,150.75 L325.50,142.50 L329.00,123.75 L332.25,154.25 L335.60,132.00 L339.00,110.50 L342.50,116.25 L345.75,117.75 L349.25,117.25 L352.50,111.75 L355.75,110.50 L359.25,115.00 L362.50,117.75 L366.00,113.75 L369.25,111.00 L372.50,103.25 L376.00,105.75 L379.50,106.25 L383.00,114.50 L386.50,108.75 L389.75,106.25 L393.00,112.00 L396.50,115.00 L399.75,115.50 L403.00,110.50 L406.50,102.50 L410.00,86.25 L413.50,83.00 L416.75,90.75 L420.25,97.50 L423.50,94.25 L426.75,93.00 L430.25,88.25 L433.75,85.75 L437.00,87.00 L440.25,80.00 L443.50,69.25 L447.00,82.50 L450.25,83.25 L453.75,92.00 L457.25,101.75 L460.50,89.25 L463.75,94.50 L467.00,108.00 L470.50,110.00 L474.00,110.75 L477.25,110.75 L480.50,90.00 L484.00,75.00 L487.50,68.75 L491.00,65.00 L494.25,73.25 L497.75,57.50 L501.00,39.25 L504.50,51.75 L508.00,57.00 L511.25,63.25 L514.75,64.25 L518.00,91.25 L521.50,113.75 L524.75,121.25 L528.25,132.50 L531.50,138.75 L535.00,155.75 L538.25,139.50 L541.75,146.75 L545.00,147.00 L548.25,156.75 L551.75,150.00 L555.25,167.00 L558.50,165.50 L562.00,166.00 L565.25,167.50 L568.75,168.00 L572.00,145.00 L575.50,158.75 L579.00,138.25 L582.50,130.00 L585.75,118.75 L589.25,118.00 L592.75,117.50 L596.00,122.00 L599.50,137.50 L602.75,144.50 L606.00,141.75 L609.50,146.25 L612.75,148.75 L616.25,132.75 L619.50,132.50 L623.00,133.00 L626.25,137.50 L629.50,142.00 L633.00,146.25 L636.25,152.50 L639.75,167.00 L643.00,175.50 L646.50,174.25 L649.75,169.50 L653.00,172.50 L656.50,167.50 L659.75,170.75 L663.25,177.00 L666.50,174.50 L670.00,185.50 L673.50,181.25 L676.75,162.00 L680.25,174.50 L683.50,167.00 L687.00,164.50 L690.25,173.75 L693.75,191.25 L697.00,196.25 L700.50,180.50 L703.75,178.75 L707.00,177.00 L710.50,186.25 L713.75,174.50 L717.25,165.00 L720.75,170.00 L724.00,155.75 L727.50,164.25 L730.75,166.75 L734.25,181.25 L737.50,182.50 L740.75,203.25 L744.25,183.75 L747.75,191.25 L751.00,196.25 L754.50,203.75 L758.00,202.50 L761.25,207.50 L764.50,203.75 L768.00,210.00 L771.50,208.75 L774.25,207.00 L777.50,201.25 L781.00,193.75 L784.50,198.75 L788.00,225.75 L791.25,218.75 L794.75,210.00 L798.25,202.50 L801.50,181.25 L805.00,171.25 L808.25,167.00 L811.75,173.75 L815.25,183.75 L818.50,193.00 L822.00,187.00 L825.50,198.00 L828.75,198.75 L832.25,207.50 L835.50,217.00 L838.75,215.50 L842.25,240.50 L845.75,237.00 L849.00,190.50 L852.50,202.50 L856.00,175.00 L859.25,203.75 L862.75,191.25 L866.25,195.50 L869.50,210.00 L873.00,225.75 L876.25,230.00 L879.75,233.25 L883.00,232.50 L886.50,229.50 L889.75,232.00 L893.00,220.50 L896.50,218.25 L899.75,213.75 L903.25,221.25 L906.50,220.50 L909.75,202.00 L913.25,203.75 L916.75,211.25 L920.00,225.75 L923.25,224.25 L926.75,236.75 L930.00,231.25 L933.50,237.50 L937.00,232.50 L940.50,227.50 L943.75,233.00 L947.00,230.75 L950.50,230.00 L954.00,201.75 L957.25,208.00 L960.50,230.00 L964.00,221.75 L967.25,227.00 L970.75,232.50 L974.25,215.00 L977.50,231.25 L981.00,247.00 L984.00,274.70 L987.50,275.00 L990.80,281.70 L994.30,259.00 L997.50,258.40 L1000.80,265.60 L1004.10,272.90 L1006.50,277.50 L1006.50,172.5 L8.00,172.5 Z" fill="url(#rg)"/></g>
<!-- baseline dotted -->
<line x1="8" y1="172.5" x2="1007" y2="172.5" stroke="#787a80" stroke-width="1" stroke-dasharray="1 3" shape-rendering="crispEdges"/>
<!-- lines -->
<g clip-path="url(#top)"><path d="M8.00,192.90 L11.30,189.60 L14.50,184.50 L17.70,178.00 L20.90,170.00 L23.90,162.60 L24.60,160.00 L28.30,159.20 L31.90,158.50 L32.70,162.70 L33.60,186.50 L35.20,202.90 L37.70,218.00 L41.50,223.80 L44.80,223.10 L48.50,237.60 L52.10,230.60 L55.30,235.10 L59.10,219.30 L62.40,205.50 L65.90,196.70 L69.20,184.80 L72.40,187.80 L75.50,178.50 L78.70,184.10 L82.20,189.60 L86.00,191.60 L89.30,200.40 L92.30,208.70 L95.60,204.70 L98.80,219.30 L102.40,211.70 L105.60,177.80 L108.90,189.90 L112.40,194.10 L115.70,200.40 L119.50,208.00 L122.60,196.00 L125.00,172.50 L126.00,160.50 L129.25,162.00 L132.50,146.75 L136.25,149.50 L139.50,140.75 L143.00,152.50 L146.25,166.75 L149.50,166.75 L153.00,150.00 L156.50,139.25 L160.00,145.75 L163.25,145.75 L166.75,147.75 L170.00,147.00 L173.25,137.00 L176.75,138.75 L180.00,136.50 L183.50,140.75 L186.75,140.75 L190.25,150.25 L193.75,147.00 L197.00,150.00 L200.50,138.25 L204.00,134.25 L207.50,140.25 L210.75,136.75 L214.25,138.00 L217.50,142.50 L221.00,147.00 L224.50,156.00 L227.75,146.75 L231.25,149.25 L234.50,145.25 L238.00,146.75 L241.25,147.75 L244.50,134.50 L248.00,141.75 L251.50,140.75 L254.75,137.25 L258.25,143.00 L261.50,138.25 L265.00,133.25 L268.25,123.75 L271.50,124.25 L274.75,114.00 L278.25,130.00 L281.75,131.75 L285.00,121.25 L288.25,120.25 L291.50,103.00 L294.75,107.00 L298.25,132.50 L301.75,140.75 L305.00,140.75 L308.50,147.50 L312.00,151.25 L315.50,152.00 L319.00,155.75 L322.50,150.75 L325.50,142.50 L329.00,123.75 L332.25,154.25 L335.60,132.00 L339.00,110.50 L342.50,116.25 L345.75,117.75 L349.25,117.25 L352.50,111.75 L355.75,110.50 L359.25,115.00 L362.50,117.75 L366.00,113.75 L369.25,111.00 L372.50,103.25 L376.00,105.75 L379.50,106.25 L383.00,114.50 L386.50,108.75 L389.75,106.25 L393.00,112.00 L396.50,115.00 L399.75,115.50 L403.00,110.50 L406.50,102.50 L410.00,86.25 L413.50,83.00 L416.75,90.75 L420.25,97.50 L423.50,94.25 L426.75,93.00 L430.25,88.25 L433.75,85.75 L437.00,87.00 L440.25,80.00 L443.50,69.25 L447.00,82.50 L450.25,83.25 L453.75,92.00 L457.25,101.75 L460.50,89.25 L463.75,94.50 L467.00,108.00 L470.50,110.00 L474.00,110.75 L477.25,110.75 L480.50,90.00 L484.00,75.00 L487.50,68.75 L491.00,65.00 L494.25,73.25 L497.75,57.50 L501.00,39.25 L504.50,51.75 L508.00,57.00 L511.25,63.25 L514.75,64.25 L518.00,91.25 L521.50,113.75 L524.75,121.25 L528.25,132.50 L531.50,138.75 L535.00,155.75 L538.25,139.50 L541.75,146.75 L545.00,147.00 L548.25,156.75 L551.75,150.00 L555.25,167.00 L558.50,165.50 L562.00,166.00 L565.25,167.50 L568.75,168.00 L572.00,145.00 L575.50,158.75 L579.00,138.25 L582.50,130.00 L585.75,118.75 L589.25,118.00 L592.75,117.50 L596.00,122.00 L599.50,137.50 L602.75,144.50 L606.00,141.75 L609.50,146.25 L612.75,148.75 L616.25,132.75 L619.50,132.50 L623.00,133.00 L626.25,137.50 L629.50,142.00 L633.00,146.25 L636.25,152.50 L639.75,167.00 L643.00,175.50 L646.50,174.25 L649.75,169.50 L653.00,172.50 L656.50,167.50 L659.75,170.75 L663.25,177.00 L666.50,174.50 L670.00,185.50 L673.50,181.25 L676.75,162.00 L680.25,174.50 L683.50,167.00 L687.00,164.50 L690.25,173.75 L693.75,191.25 L697.00,196.25 L700.50,180.50 L703.75,178.75 L707.00,177.00 L710.50,186.25 L713.75,174.50 L717.25,165.00 L720.75,170.00 L724.00,155.75 L727.50,164.25 L730.75,166.75 L734.25,181.25 L737.50,182.50 L740.75,203.25 L744.25,183.75 L747.75,191.25 L751.00,196.25 L754.50,203.75 L758.00,202.50 L761.25,207.50 L764.50,203.75 L768.00,210.00 L771.50,208.75 L774.25,207.00 L777.50,201.25 L781.00,193.75 L784.50,198.75 L788.00,225.75 L791.25,218.75 L794.75,210.00 L798.25,202.50 L801.50,181.25 L805.00,171.25 L808.25,167.00 L811.75,173.75 L815.25,183.75 L818.50,193.00 L822.00,187.00 L825.50,198.00 L828.75,198.75 L832.25,207.50 L835.50,217.00 L838.75,215.50 L842.25,240.50 L845.75,237.00 L849.00,190.50 L852.50,202.50 L856.00,175.00 L859.25,203.75 L862.75,191.25 L866.25,195.50 L869.50,210.00 L873.00,225.75 L876.25,230.00 L879.75,233.25 L883.00,232.50 L886.50,229.50 L889.75,232.00 L893.00,220.50 L896.50,218.25 L899.75,213.75 L903.25,221.25 L906.50,220.50 L909.75,202.00 L913.25,203.75 L916.75,211.25 L920.00,225.75 L923.25,224.25 L926.75,236.75 L930.00,231.25 L933.50,237.50 L937.00,232.50 L940.50,227.50 L943.75,233.00 L947.00,230.75 L950.50,230.00 L954.00,201.75 L957.25,208.00 L960.50,230.00 L964.00,221.75 L967.25,227.00 L970.75,232.50 L974.25,215.00 L977.50,231.25 L981.00,247.00 L984.00,274.70 L987.50,275.00 L990.80,281.70 L994.30,259.00 L997.50,258.40 L1000.80,265.60 L1004.10,272.90 L1006.50,277.50" fill="none" stroke="#16c784" stroke-width="2" stroke-linejoin="round" stroke-linecap="round"/></g>
<g clip-path="url(#bot)"><path d="M8.00,192.90 L11.30,189.60 L14.50,184.50 L17.70,178.00 L20.90,170.00 L23.90,162.60 L24.60,160.00 L28.30,159.20 L31.90,158.50 L32.70,162.70 L33.60,186.50 L35.20,202.90 L37.70,218.00 L41.50,223.80 L44.80,223.10 L48.50,237.60 L52.10,230.60 L55.30,235.10 L59.10,219.30 L62.40,205.50 L65.90,196.70 L69.20,184.80 L72.40,187.80 L75.50,178.50 L78.70,184.10 L82.20,189.60 L86.00,191.60 L89.30,200.40 L92.30,208.70 L95.60,204.70 L98.80,219.30 L102.40,211.70 L105.60,177.80 L108.90,189.90 L112.40,194.10 L115.70,200.40 L119.50,208.00 L122.60,196.00 L125.00,172.50 L126.00,160.50 L129.25,162.00 L132.50,146.75 L136.25,149.50 L139.50,140.75 L143.00,152.50 L146.25,166.75 L149.50,166.75 L153.00,150.00 L156.50,139.25 L160.00,145.75 L163.25,145.75 L166.75,147.75 L170.00,147.00 L173.25,137.00 L176.75,138.75 L180.00,136.50 L183.50,140.75 L186.75,140.75 L190.25,150.25 L193.75,147.00 L197.00,150.00 L200.50,138.25 L204.00,134.25 L207.50,140.25 L210.75,136.75 L214.25,138.00 L217.50,142.50 L221.00,147.00 L224.50,156.00 L227.75,146.75 L231.25,149.25 L234.50,145.25 L238.00,146.75 L241.25,147.75 L244.50,134.50 L248.00,141.75 L251.50,140.75 L254.75,137.25 L258.25,143.00 L261.50,138.25 L265.00,133.25 L268.25,123.75 L271.50,124.25 L274.75,114.00 L278.25,130.00 L281.75,131.75 L285.00,121.25 L288.25,120.25 L291.50,103.00 L294.75,107.00 L298.25,132.50 L301.75,140.75 L305.00,140.75 L308.50,147.50 L312.00,151.25 L315.50,152.00 L319.00,155.75 L322.50,150.75 L325.50,142.50 L329.00,123.75 L332.25,154.25 L335.60,132.00 L339.00,110.50 L342.50,116.25 L345.75,117.75 L349.25,117.25 L352.50,111.75 L355.75,110.50 L359.25,115.00 L362.50,117.75 L366.00,113.75 L369.25,111.00 L372.50,103.25 L376.00,105.75 L379.50,106.25 L383.00,114.50 L386.50,108.75 L389.75,106.25 L393.00,112.00 L396.50,115.00 L399.75,115.50 L403.00,110.50 L406.50,102.50 L410.00,86.25 L413.50,83.00 L416.75,90.75 L420.25,97.50 L423.50,94.25 L426.75,93.00 L430.25,88.25 L433.75,85.75 L437.00,87.00 L440.25,80.00 L443.50,69.25 L447.00,82.50 L450.25,83.25 L453.75,92.00 L457.25,101.75 L460.50,89.25 L463.75,94.50 L467.00,108.00 L470.50,110.00 L474.00,110.75 L477.25,110.75 L480.50,90.00 L484.00,75.00 L487.50,68.75 L491.00,65.00 L494.25,73.25 L497.75,57.50 L501.00,39.25 L504.50,51.75 L508.00,57.00 L511.25,63.25 L514.75,64.25 L518.00,91.25 L521.50,113.75 L524.75,121.25 L528.25,132.50 L531.50,138.75 L535.00,155.75 L538.25,139.50 L541.75,146.75 L545.00,147.00 L548.25,156.75 L551.75,150.00 L555.25,167.00 L558.50,165.50 L562.00,166.00 L565.25,167.50 L568.75,168.00 L572.00,145.00 L575.50,158.75 L579.00,138.25 L582.50,130.00 L585.75,118.75 L589.25,118.00 L592.75,117.50 L596.00,122.00 L599.50,137.50 L602.75,144.50 L606.00,141.75 L609.50,146.25 L612.75,148.75 L616.25,132.75 L619.50,132.50 L623.00,133.00 L626.25,137.50 L629.50,142.00 L633.00,146.25 L636.25,152.50 L639.75,167.00 L643.00,175.50 L646.50,174.25 L649.75,169.50 L653.00,172.50 L656.50,167.50 L659.75,170.75 L663.25,177.00 L666.50,174.50 L670.00,185.50 L673.50,181.25 L676.75,162.00 L680.25,174.50 L683.50,167.00 L687.00,164.50 L690.25,173.75 L693.75,191.25 L697.00,196.25 L700.50,180.50 L703.75,178.75 L707.00,177.00 L710.50,186.25 L713.75,174.50 L717.25,165.00 L720.75,170.00 L724.00,155.75 L727.50,164.25 L730.75,166.75 L734.25,181.25 L737.50,182.50 L740.75,203.25 L744.25,183.75 L747.75,191.25 L751.00,196.25 L754.50,203.75 L758.00,202.50 L761.25,207.50 L764.50,203.75 L768.00,210.00 L771.50,208.75 L774.25,207.00 L777.50,201.25 L781.00,193.75 L784.50,198.75 L788.00,225.75 L791.25,218.75 L794.75,210.00 L798.25,202.50 L801.50,181.25 L805.00,171.25 L808.25,167.00 L811.75,173.75 L815.25,183.75 L818.50,193.00 L822.00,187.00 L825.50,198.00 L828.75,198.75 L832.25,207.50 L835.50,217.00 L838.75,215.50 L842.25,240.50 L845.75,237.00 L849.00,190.50 L852.50,202.50 L856.00,175.00 L859.25,203.75 L862.75,191.25 L866.25,195.50 L869.50,210.00 L873.00,225.75 L876.25,230.00 L879.75,233.25 L883.00,232.50 L886.50,229.50 L889.75,232.00 L893.00,220.50 L896.50,218.25 L899.75,213.75 L903.25,221.25 L906.50,220.50 L909.75,202.00 L913.25,203.75 L916.75,211.25 L920.00,225.75 L923.25,224.25 L926.75,236.75 L930.00,231.25 L933.50,237.50 L937.00,232.50 L940.50,227.50 L943.75,233.00 L947.00,230.75 L950.50,230.00 L954.00,201.75 L957.25,208.00 L960.50,230.00 L964.00,221.75 L967.25,227.00 L970.75,232.50 L974.25,215.00 L977.50,231.25 L981.00,247.00 L984.00,274.70 L987.50,275.00 L990.80,281.70 L994.30,259.00 L997.50,258.40 L1000.80,265.60 L1004.10,272.90 L1006.50,277.50" fill="none" stroke="#ea3943" stroke-width="2" stroke-linejoin="round" stroke-linecap="round"/></g>
<rect x="1007.1" y="265.1" width="51.6" height="25.6" rx="3" fill="#ea3943"/>
<!-- watermark logo -->
<g transform="translate(863.9,309.7)" fill="none" stroke="#d1d6e3" stroke-width="2" stroke-linecap="round" stroke-linejoin="round">
<path d="M10.6,1.2 A10.7,10.7 0 1 0 7.6,7.6"/>
<path d="M-7.7,5.8 L-1.5,-5.0 L-0.1,3.8 L2.6,-2.8 Q4.6,-4.9 5.7,-2.4 L6.4,1.6 Q7.4,4.6 10.6,1.2"/>
</g>
<!-- mini chart -->
<rect x="8" y="413" width="999.5" height="1" fill="#f1f3f6"/>
<rect x="104" y="413" width="1" height="40" fill="#f3f5f8"/><rect x="236" y="413" width="1" height="40" fill="#f3f5f8"/><rect x="368" y="413" width="1" height="40" fill="#f3f5f8"/><rect x="501" y="413" width="1" height="40" fill="#f3f5f8"/><rect x="633" y="413" width="1" height="40" fill="#f3f5f8"/><rect x="765" y="413" width="1" height="40" fill="#f3f5f8"/><rect x="897" y="413" width="1" height="40" fill="#f3f5f8"/>
<path d="M8.00,453.20 L470.00,453.00 L490.00,451.10 L499.00,448.60 L508.00,450.40 L533.50,451.90 L571.50,452.40 L597.00,450.60 L622.00,451.10 L647.70,451.10 L673.00,450.40 L688.00,448.60 L698.40,445.60 L706.00,439.70 L717.50,435.40 L723.80,438.50 L729.00,441.00 L734.00,441.80 L740.00,439.70 L750.00,436.40 L755.70,433.90 L760.30,436.70 L765.40,439.00 L771.70,441.00 L780.60,440.50 L787.00,443.50 L794.60,446.60 L806.00,447.30 L821.00,448.60 L834.00,447.80 L841.50,446.00 L851.70,445.30 L867.00,445.60 L879.60,444.80 L889.70,442.30 L897.40,441.00 L905.00,437.20 L910.60,432.90 L917.70,434.10 L927.80,433.40 L935.40,435.40 L943.00,434.60 L950.70,432.10 L955.70,426.30 L962.00,422.70 L968.40,423.70 L976.00,427.00 L981.00,428.80 L987.50,423.70 L993.80,420.20 L998.90,420.70 L1002.70,417.60 L1006.50,419.40 L1006.50,453.5 L8,453.5 Z" fill="#eff2f5"/>
<rect x="8" y="453" width="1000" height="1" fill="#eff2f5"/>
<!-- handle -->
<filter id="bl" x="-100%" y="-100%" width="300%" height="300%"><feGaussianBlur stdDeviation="2"/></filter>
<rect x="999" y="423.5" width="14" height="19" rx="6.5" fill="#3a4a6a" opacity="0.22" filter="url(#bl)"/>
<rect x="999" y="423" width="14" height="19" rx="6.5" fill="#fff"/>
<rect x="1004" y="429.3" width="1" height="7" fill="#80848e"/><rect x="1007" y="429.3" width="1" height="7" fill="#80848e"/>
<!-- grey tag -->
<path d="M9.2,397.6 Q8.2,396.4 9.2,395.2 L16.8,386 Q18.6,384.15 21.2,384.15 L47.1,384.15 A12.2,12.2 0 0 1 47.1,408.55 L21.2,408.55 Q18.6,408.55 16.8,406.8 Z" fill="#a6b0c3"/>
<g transform="translate(24.5,396)" fill="none" stroke="#fff" stroke-width="1.5" stroke-linecap="round" stroke-linejoin="round">
<path d="M-4.6,-1.8 A5,5 0 1 1 -4.2,2.8"/><path d="M-5.6,-4 L-4.9,-1.4 L-2.3,-2"/><path d="M0,-2.6 L0,0.2 L2,1.4"/></g>
<!-- purple pointer -->
<path d="M928.6,385 L932.7,380.1 L936.8,385 Z" fill="#7f4ff6"/>
<rect x="861" y="384.15" width="143.8" height="24.4" rx="12.2" fill="#7f4ff6"/>
</svg>
<div class="yl" style="top:51.5px">115.50K</div><div class="yl" style="top:101.5px">115.25K</div><div class="yl" style="top:150.5px">115.00K</div><div class="yl" style="top:199.5px">114.75K</div><div class="yl" style="top:249.5px">114.50K</div><div class="yl" style="top:298.5px">114.25K</div>
<div class="tl" style="left:11.3px">2:00 ...</div><div class="tl" style="left:50px;width:80px;text-align:center">4:00 PM</div><div class="tl" style="left:131px;width:80px;text-align:center">6:00 PM</div><div class="tl" style="left:212px;width:80px;text-align:center">8:00 PM</div><div class="tl" style="left:293px;width:80px;text-align:center">10:00 PM</div><div class="tl" style="left:374px;width:80px;text-align:center">24 Aug</div><div class="tl" style="left:454px;width:80px;text-align:center">2:00 AM</div><div class="tl" style="left:536px;width:80px;text-align:center">4:00 AM</div><div class="tl" style="left:616px;width:80px;text-align:center">6:00 AM</div><div class="tl" style="left:698px;width:80px;text-align:center">8:00 AM</div><div class="tl" style="left:779px;width:80px;text-align:center">10:00 AM</div><div class="tl" style="left:860px;width:80px;text-align:center">12:00 PM</div><div class="tl" style="left:941px;width:80px;text-align:center">2:00 PM</div>
<div class="yr" style="left:75.50px">2012</div><div class="yr" style="left:207.65px">2014</div><div class="yr" style="left:339.80px">2016</div><div class="yr" style="left:471.95px">2018</div><div class="yr" style="left:604.10px">2020</div><div class="yr" style="left:736.25px">2022</div><div class="yr" style="left:868.40px">2024</div>
<div class="base">114.93K</div>
<div class="cur">114.39K</div>
<div class="usd">USD</div>
<div class="wm">CoinMarketCap</div>
<div class="pill"><span>Senator Lummis's b...</span></div>
<div class="tag">123</div>
<svg width="1072" height="477" viewBox="0 0 1072 477" style="pointer-events:none"><path d="M874.3,390.6 L868.5,397.5 L872.5,397.5 L871.2,402.8 L877.3,395.6 L873.3,395.6 Z" fill="none" stroke="#fff" stroke-width="1.2" stroke-linejoin="round"/></svg>
</body></html>
